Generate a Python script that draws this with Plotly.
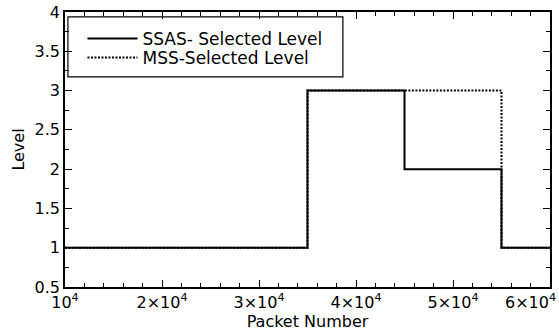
import plotly.graph_objects as go

# Step positions (packet numbers) where the selected level changes
packets = [10000, 35000, 45000, 55000, 60000]
ssas_level = [1, 3, 2, 1, 1]
mss_level = [1, 3, 3, 1, 1]

x_tickvals = [10000, 20000, 30000, 40000, 50000, 60000]
x_ticktext = ["10<sup>4</sup>", "2×10<sup>4</sup>", "3×10<sup>4</sup>",
              "4×10<sup>4</sup>", "5×10<sup>4</sup>", "6×10<sup>4</sup>"]
y_tickvals = [0.5, 1, 1.5, 2, 2.5, 3, 3.5, 4]
y_ticktext = ["0.5", "1", "1.5", "2", "2.5", "3", "3.5", "4"]

FONT = "DejaVu Sans"

fig = go.Figure()
fig.add_trace(go.Scatter(
    x=packets, y=ssas_level, mode="lines", line_shape="hv",
    name="SSAS- Selected Level", legend="legend",
    line=dict(color="black", width=2),
))
fig.add_trace(go.Scatter(
    x=packets, y=mss_level, mode="lines", line_shape="hv",
    name="MSS-Selected Level", legend="legend2",
    line=dict(color="black", width=2, dash="2px,1.5px"),
))

axis_common = dict(
    showline=True, linecolor="black", linewidth=1.5, mirror="allticks",
    ticks="inside", ticklen=7, tickwidth=1, tickcolor="black",
    showgrid=False, zeroline=False, automargin=False,
    tickfont=dict(family=FONT, size=16, color="black"),
)

fig.update_xaxes(
    range=[10000, 60000], tickmode="array",
    tickvals=x_tickvals[:-1], ticktext=x_ticktext[:-1],
    minor=dict(dtick=2000, tick0=10000, ticks="inside", ticklen=4,
               tickcolor="black", tickwidth=1),
    title=dict(text="Packet Number", font=dict(family=FONT, size=16, color="black"),
               standoff=4),
    **axis_common,
)
fig.update_yaxes(
    range=[0.5, 4], tickmode="array",
    tickvals=y_tickvals, ticktext=y_ticktext,
    minor=dict(dtick=0.25, tick0=0.5, ticks="inside", ticklen=4,
               tickcolor="black", tickwidth=1),
    title=dict(text="Level", font=dict(family=FONT, size=16, color="black"),
               standoff=6),
    **axis_common,
)

# Last x tick label, pulled inward so it stays inside the page
fig.add_annotation(
    x=x_tickvals[-1], y=0, xref="x", yref="paper",
    text=x_ticktext[-1], showarrow=False,
    xanchor="right", yanchor="top", xshift=8, yshift=-2,
    font=dict(family=FONT, size=16, color="black"),
)

# Legend frame
fig.add_shape(
    type="rect", xref="paper", yref="paper",
    x0=0.006, x1=0.573, y0=0.764, y1=0.982,
    line=dict(color="black", width=1.2), fillcolor="white", layer="below",
)

legend_style = dict(
    xanchor="left", yanchor="middle",
    bgcolor="rgba(0,0,0,0)", borderwidth=0,
    font=dict(family=FONT, size=17, color="black"),
    itemwidth=50,
)

fig.update_layout(
    width=559, height=335,
    margin=dict(l=65, r=9, t=12, b=48),
    paper_bgcolor="white", plot_bgcolor="white",
    font=dict(family=FONT, size=16, color="black"),
    showlegend=True,
    legend=dict(x=0.036, y=0.902, **legend_style),
    legend2=dict(x=0.036, y=0.833, **legend_style),
)

fig.write_html("out.html")
